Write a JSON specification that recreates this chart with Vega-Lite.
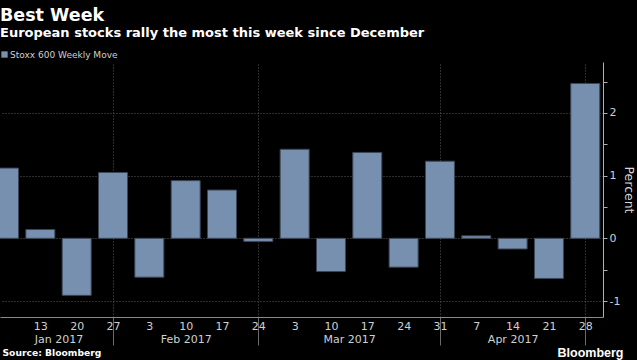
{
  "$schema": "https://vega.github.io/schema/vega-lite/v6.json",
  "autosize": "none",
  "width": 603,
  "height": 255,
  "padding": {"left": 0, "top": 62, "right": 34, "bottom": 43},
  "background": "#000000",
  "config": {
    "view": {"stroke": null},
    "font": "DejaVu Sans"
  },
  "title": {
    "text": "Best Week",
    "subtitle": "European stocks rally the most this week since December",
    "anchor": "start",
    "offset": 10,
    "font": "DejaVu Sans",
    "fontSize": 17.5,
    "fontWeight": "bold",
    "color": "#ffffff",
    "subtitleFont": "DejaVu Sans",
    "subtitleFontSize": 13,
    "subtitleFontWeight": "bold",
    "subtitleColor": "#ffffff",
    "subtitlePadding": 3
  },
  "data": {
    "values": [
      {"week": "2017-01-06", "move": 1.12, "series": "Stoxx 600 Weekly Move"},
      {"week": "2017-01-13", "move": 0.14, "series": "Stoxx 600 Weekly Move"},
      {"week": "2017-01-20", "move": -0.91, "series": "Stoxx 600 Weekly Move"},
      {"week": "2017-01-27", "move": 1.05, "series": "Stoxx 600 Weekly Move"},
      {"week": "2017-02-03", "move": -0.62, "series": "Stoxx 600 Weekly Move"},
      {"week": "2017-02-10", "move": 0.92, "series": "Stoxx 600 Weekly Move"},
      {"week": "2017-02-17", "move": 0.77, "series": "Stoxx 600 Weekly Move"},
      {"week": "2017-02-24", "move": -0.05, "series": "Stoxx 600 Weekly Move"},
      {"week": "2017-03-03", "move": 1.42, "series": "Stoxx 600 Weekly Move"},
      {"week": "2017-03-10", "move": -0.53, "series": "Stoxx 600 Weekly Move"},
      {"week": "2017-03-17", "move": 1.37, "series": "Stoxx 600 Weekly Move"},
      {"week": "2017-03-24", "move": -0.46, "series": "Stoxx 600 Weekly Move"},
      {"week": "2017-03-31", "move": 1.23, "series": "Stoxx 600 Weekly Move"},
      {"week": "2017-04-07", "move": 0.04, "series": "Stoxx 600 Weekly Move"},
      {"week": "2017-04-14", "move": -0.17, "series": "Stoxx 600 Weekly Move"},
      {"week": "2017-04-21", "move": -0.64, "series": "Stoxx 600 Weekly Move"},
      {"week": "2017-04-28", "move": 2.47, "series": "Stoxx 600 Weekly Move"}
    ]
  },
  "layer": [
    {
      "mark": {"type": "rule", "opacity": 0},
      "encoding": {
        "x": {
          "field": "week",
          "type": "temporal",
          "scale": {"type": "utc", "domain": [{"year": 2017, "month": 1, "date": 6, "hours": 4, "minutes": 33, "utc": true}, {"year": 2017, "month": 4, "date": 30, "hours": 10, "minutes": 50, "utc": true}]},
          "axis": {
            "orient": "bottom",
            "values": [
              {"year": 2017, "month": 1, "date": 27, "utc": true},
              {"year": 2017, "month": 2, "date": 24, "utc": true},
              {"year": 2017, "month": 3, "date": 31, "utc": true},
              {"year": 2017, "month": 4, "date": 28, "utc": true}
            ],
            "labels": false,
            "ticks": true,
            "tickSize": 28,
            "tickColor": "#6a6a6a",
            "tickWidth": 1,
            "grid": true,
            "gridDash": [1, 2],
            "gridColor": "#5a5a5a",
            "gridWidth": 1,
            "domain": false,
            "title": "Source: Bloomberg",
            "titleFont": "DejaVu Sans",
            "titleFontSize": 9.2,
            "titleFontWeight": "bold",
            "titleColor": "#ffffff",
            "titleAnchor": "start",
            "titleAlign": "left",
            "titleBaseline": "alphabetic",
            "titleX": 2,
            "titleY": 38
          }
        }
      }
    },
    {
      "mark": {"type": "rule", "opacity": 0},
      "encoding": {
        "x": {
          "field": "week",
          "type": "temporal",
          "scale": {"type": "utc", "domain": [{"year": 2017, "month": 1, "date": 6, "hours": 4, "minutes": 33, "utc": true}, {"year": 2017, "month": 4, "date": 30, "hours": 10, "minutes": 50, "utc": true}]},
          "axis": {
            "orient": "bottom",
            "values": [
              {"year": 2017, "month": 1, "date": 16, "hours": 12, "utc": true},
              {"year": 2017, "month": 2, "date": 10, "hours": 0, "utc": true},
              {"year": 2017, "month": 3, "date": 13, "hours": 12, "utc": true},
              {"year": 2017, "month": 4, "date": 14, "hours": 0, "utc": true}
            ],
            "format": "%b %Y",
            "labelFont": "DejaVu Sans",
            "labelFontSize": 11,
            "labelColor": "#d0d0d0",
            "labelPadding": 16,
            "labelFlush": false,
            "labelOverlap": false,
            "ticks": false,
            "grid": false,
            "domain": false,
            "title": "Bloomberg",
            "titleFont": "Liberation Sans",
            "titleFontSize": 12.5,
            "titleFontWeight": "bold",
            "titleColor": "#ffffff",
            "titleAnchor": "start",
            "titleAlign": "left",
            "titleBaseline": "alphabetic",
            "titleX": 557,
            "titleY": 39
          }
        }
      }
    },
    {
      "mark": {"type": "bar", "width": 29, "clip": true, "stroke": "#3b4656", "strokeWidth": 1},
      "encoding": {
        "x": {
          "field": "week",
          "type": "temporal",
          "scale": {"type": "utc", "domain": [{"year": 2017, "month": 1, "date": 6, "hours": 4, "minutes": 33, "utc": true}, {"year": 2017, "month": 4, "date": 30, "hours": 10, "minutes": 50, "utc": true}]},
          "axis": {
            "orient": "bottom",
            "values": [
              {"year": 2017, "month": 1, "date": 13, "utc": true},
              {"year": 2017, "month": 1, "date": 20, "utc": true},
              {"year": 2017, "month": 1, "date": 27, "utc": true},
              {"year": 2017, "month": 2, "date": 3, "utc": true},
              {"year": 2017, "month": 2, "date": 10, "utc": true},
              {"year": 2017, "month": 2, "date": 17, "utc": true},
              {"year": 2017, "month": 2, "date": 24, "utc": true},
              {"year": 2017, "month": 3, "date": 3, "utc": true},
              {"year": 2017, "month": 3, "date": 10, "utc": true},
              {"year": 2017, "month": 3, "date": 17, "utc": true},
              {"year": 2017, "month": 3, "date": 24, "utc": true},
              {"year": 2017, "month": 3, "date": 31, "utc": true},
              {"year": 2017, "month": 4, "date": 7, "utc": true},
              {"year": 2017, "month": 4, "date": 14, "utc": true},
              {"year": 2017, "month": 4, "date": 21, "utc": true},
              {"year": 2017, "month": 4, "date": 28, "utc": true}
            ],
            "format": "%-d",
            "labelFont": "DejaVu Sans",
            "labelFontSize": 11,
            "labelColor": "#d0d0d0",
            "labelPadding": 3,
            "labelFlush": false,
            "labelOverlap": false,
            "ticks": false,
            "grid": false,
            "domain": true,
            "domainColor": "#8a8a8a",
            "domainWidth": 1,
            "title": null
          }
        },
        "y": {
          "field": "move",
          "type": "quantitative",
          "scale": {"domain": [-1.255, 2.812], "nice": false, "zero": false},
          "axis": {
            "orient": "right",
            "values": [-1, -0.5, 0, 0.5, 1, 1.5, 2, 2.5],
            "labelExpr": "datum.value % 1 === 0 ? '' + datum.value : ''",
            "labelFont": "DejaVu Sans",
            "labelFontSize": 11,
            "labelColor": "#d0d0d0",
            "labelPadding": 2,
            "ticks": true,
            "tickSize": 4,
            "tickColor": "#b0b0b0",
            "domain": true,
            "domainColor": "#b0b0b0",
            "grid": true,
            "gridDash": [1, 2],
            "gridColor": "#5a5a5a",
            "gridOpacity": {"condition": {"test": "datum.value % 1 === 0", "value": 1}, "value": 0},
            "title": "Percent",
            "titleAngle": 90,
            "titleFont": "DejaVu Sans",
            "titleFontSize": 12.5,
            "titleFontWeight": "normal",
            "titleColor": "#d8d8d8",
            "titlePadding": 2
          }
        },
        "color": {
          "field": "series",
          "type": "nominal",
          "scale": {"range": ["#7790b0"]},
          "legend": {
            "title": null,
            "orient": "none",
            "legendX": 0,
            "legendY": -12,
            "symbolType": "square",
            "symbolSize": 40,
            "symbolStrokeWidth": 0,
            "labelFont": "DejaVu Sans",
            "labelFontSize": 9,
            "labelColor": "#d0d0d0",
            "labelOffset": 1
          }
        }
      }
    }
  ],
  "resolve": {"axis": {"x": "independent"}}
}
